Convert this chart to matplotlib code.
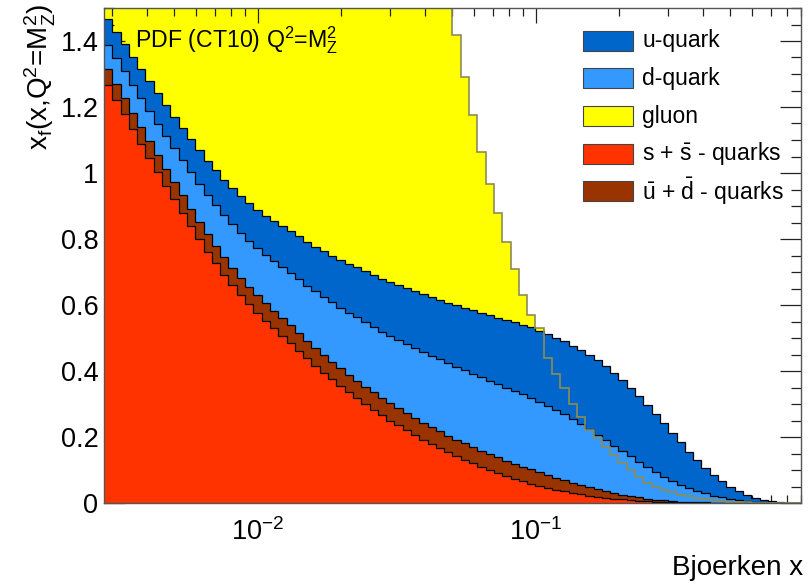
import matplotlib
matplotlib.use("Agg")
import matplotlib.pyplot as plt
import numpy as np
from matplotlib.patches import Rectangle
from matplotlib.ticker import LogLocator, NullFormatter, MultipleLocator, FormatStrFormatter

plt.rcParams['font.family'] = ['Liberation Sans', 'DejaVu Sans']
plt.rcParams['mathtext.fontset'] = 'custom'
plt.rcParams['mathtext.rm'] = 'Liberation Sans'
plt.rcParams['mathtext.it'] = 'Liberation Sans:italic'
plt.rcParams['mathtext.sf'] = 'Liberation Sans'

# binning in Bjorken x (log spaced)
x_lo, x_hi, n_bins = 0.0028, 0.9, 84
edges = np.logspace(np.log10(x_lo), np.log10(x_hi), n_bins + 1)

# x*f(x) per bin, Q^2 = MZ^2
ssbar = [1.267, 1.222, 1.178, 1.133, 1.089, 1.046, 1.003, 0.961, 0.920, 0.880,
         0.840, 0.800, 0.762, 0.726, 0.692, 0.660, 0.630, 0.602, 0.576, 0.552,
         0.529, 0.507, 0.485, 0.461, 0.438, 0.416, 0.395, 0.375, 0.355, 0.336,
         0.318, 0.300, 0.283, 0.266, 0.250, 0.235, 0.220, 0.206, 0.192, 0.179,
         0.166, 0.154, 0.142, 0.131, 0.120, 0.110, 0.100, 0.091, 0.082, 0.074,
         0.066, 0.059, 0.052, 0.046, 0.040, 0.035, 0.030, 0.026, 0.022, 0.019,
         0.016, 0.013, 0.011, 0.009, 0.007, 0.005, 0.004, 0.003, 0.002, 0.0015,
         0.001, 0.001, 0.0008, 0.0006, 0.0004, 0.0003, 0.0002, 0.0001, 0.0, 0.0,
         0.0, 0.0, 0.0, 0.0]
ubar_dbar = [0.049, 0.049, 0.050, 0.050, 0.050, 0.051, 0.051, 0.051, 0.052, 0.052,
             0.052, 0.052, 0.052, 0.053, 0.053, 0.053, 0.053, 0.053, 0.053, 0.053,
             0.053, 0.053, 0.053, 0.053, 0.053, 0.053, 0.053, 0.053, 0.053, 0.053,
             0.053, 0.053, 0.053, 0.052, 0.052, 0.052, 0.052, 0.052, 0.051, 0.051,
             0.051, 0.050, 0.050, 0.050, 0.049, 0.049, 0.048, 0.047, 0.046, 0.045,
             0.044, 0.043, 0.041, 0.039, 0.037, 0.035, 0.032, 0.029, 0.026, 0.023,
             0.020, 0.017, 0.014, 0.012, 0.010, 0.008, 0.006, 0.005, 0.004, 0.003,
             0.002, 0.0015, 0.001, 0.0008, 0.0005, 0.0003, 0.0002, 0.0001, 0.0, 0.0,
             0.0, 0.0, 0.0, 0.0]
d_quark = [0.072, 0.076, 0.080, 0.084, 0.088, 0.092, 0.096, 0.100, 0.104, 0.108,
           0.112, 0.116, 0.120, 0.124, 0.128, 0.132, 0.136, 0.140, 0.144, 0.148,
           0.152, 0.156, 0.160, 0.164, 0.168, 0.172, 0.176, 0.180, 0.184, 0.188,
           0.192, 0.195, 0.198, 0.201, 0.204, 0.207, 0.210, 0.212, 0.214, 0.216,
           0.218, 0.219, 0.220, 0.221, 0.222, 0.222, 0.222, 0.222, 0.221, 0.220,
           0.219, 0.217, 0.214, 0.210, 0.205, 0.199, 0.192, 0.184, 0.175, 0.165,
           0.155, 0.144, 0.132, 0.120, 0.108, 0.096, 0.084, 0.072, 0.061, 0.051,
           0.042, 0.034, 0.027, 0.021, 0.016, 0.012, 0.009, 0.006, 0.004, 0.002,
           0.001, 0.0005, 0.0, 0.0]
u_quark = [0.079, 0.081, 0.083, 0.085, 0.087, 0.089, 0.091, 0.093, 0.095, 0.097,
           0.099, 0.101, 0.103, 0.105, 0.107, 0.109, 0.111, 0.113, 0.115, 0.118,
           0.121, 0.124, 0.127, 0.130, 0.133, 0.136, 0.139, 0.142, 0.145, 0.148,
           0.151, 0.154, 0.157, 0.160, 0.163, 0.166, 0.169, 0.172, 0.175, 0.178,
           0.181, 0.184, 0.187, 0.190, 0.193, 0.196, 0.199, 0.202, 0.205, 0.208,
           0.211, 0.213, 0.215, 0.217, 0.219, 0.221, 0.223, 0.224, 0.225, 0.225,
           0.224, 0.221, 0.216, 0.209, 0.200, 0.189, 0.176, 0.161, 0.145, 0.128,
           0.111, 0.094, 0.078, 0.063, 0.049, 0.037, 0.027, 0.019, 0.012, 0.007,
           0.004, 0.002, 0.001, 0.0]
gluon = [9.80, 9.00, 8.30, 7.65, 7.05, 6.50, 6.00, 5.55, 5.15, 4.78,
         4.44, 4.13, 3.85, 3.60, 3.37, 3.16, 2.97, 2.80, 2.64, 2.50,
         2.37, 2.25, 2.14, 2.04, 1.95, 1.90, 1.86, 1.82, 1.79, 1.77,
         1.75, 1.74, 1.73, 1.72, 1.71, 1.70, 1.69, 1.68, 1.67, 1.65,
         1.62, 1.56, 1.418, 1.29, 1.177, 1.065, 0.966, 0.88, 0.79, 0.71,
         0.63, 0.57, 0.53, 0.44, 0.39, 0.35, 0.30, 0.26, 0.22, 0.196,
         0.17, 0.145, 0.12, 0.10, 0.08, 0.06, 0.05, 0.04, 0.032, 0.025,
         0.02, 0.015, 0.011, 0.008, 0.005, 0.004, 0.003, 0.002, 0.001, 0.001,
         0.0005, 0.0, 0.0, 0.0]

labels = ['u-quark', 'd-quark', 'gluon',
          r's + $\mathregular{\bar{s}}$ - quarks',
          r'$\mathregular{\bar{u}}$ + $\mathregular{\bar{d}}$ - quarks']
colors = {'u': '#0066cc', 'd': '#3399ff', 'g': '#ffff00', 's': '#ff3300', 'ud': '#993300'}
gluon_line = '#8c8c55'

fig = plt.figure(figsize=(8.09, 5.87), dpi=100)
ax = fig.add_axes([104 / 809, 84 / 587, 697 / 809, 495 / 587])

# gluon drawn alone behind the quark stack
ax.stairs(gluon, edges, baseline=0, fill=True, color=colors['g'], zorder=1)

# stacked quark contributions, bottom to top
stack = [(ssbar, colors['s']), (ubar_dbar, colors['ud']),
         (d_quark, colors['d']), (u_quark, colors['u'])]
base = np.zeros(n_bins)
for vals, col in stack:
    top = base + np.array(vals)
    ax.stairs(top, edges, baseline=base, fill=True, color=col, lw=0, zorder=2)
    ax.stairs(top, edges, baseline=None, color='black', lw=0.9, zorder=3)
    base = top

ax.stairs(gluon, edges, baseline=None, color=gluon_line, lw=1.2, zorder=4)

ax.set_xscale('log')
ax.set_xlim(x_lo, x_hi)
ax.set_ylim(0, 1.5)
ax.xaxis.set_major_locator(LogLocator(base=10))
ax.xaxis.set_minor_locator(LogLocator(base=10, subs=np.arange(2, 10)))
ax.xaxis.set_minor_formatter(NullFormatter())
ax.yaxis.set_major_locator(MultipleLocator(0.2))
ax.yaxis.set_minor_locator(MultipleLocator(0.05))
ax.yaxis.set_major_formatter(FormatStrFormatter('%g'))

ax.tick_params(axis='both', which='both', direction='in', top=True, right=True,
               labelsize=19.5, width=0.9, color='#222222')
ax.tick_params(axis='y', which='major', length=15, pad=4)
ax.tick_params(axis='y', which='minor', length=7.5)
ax.tick_params(axis='x', which='major', length=11, pad=11)
ax.tick_params(axis='x', which='minor', length=5.5)
for sp in ax.spines.values():
    sp.set_linewidth(1.0)
    sp.set_color('#555555')
    sp.set_zorder(5)

# axis titles placed at the far ends of the axes
fig.text(803 / 809, 1 - 568 / 587, 'Bjoerken x', fontsize=20, ha='right', va='center')
fig.text(40 / 809, 1 - 4 / 587,
         r'x$\mathregular{_f}$(x,Q$\mathregular{^2}$=M$\mathregular{_Z^2}$)',
         fontsize=20, rotation=90, ha='center', va='top')

ax.text(0.045, 0.935, r'PDF (CT10) Q$\mathregular{^2}$=M$\mathregular{_Z^2}$',
        transform=ax.transAxes, fontsize=16.7, va='center')

# legend drawn by hand, in figure pixels
leg_cols = [colors['u'], colors['d'], colors['g'], colors['s'], colors['ud']]
for k, (lab, col) in enumerate(zip(labels, leg_cols)):
    yc = 587 - (41 + 37.5 * k)
    fig.patches.append(Rectangle((583 / 809, (yc - 10) / 587), 50 / 809, 20 / 587,
                                 transform=fig.transFigure, facecolor=col,
                                 edgecolor='#444444', lw=0.8, zorder=6))
    fig.text(642 / 809, yc / 587, lab, fontsize=16.5, va='center', ha='left')

fig.savefig('out.png', dpi=100)
